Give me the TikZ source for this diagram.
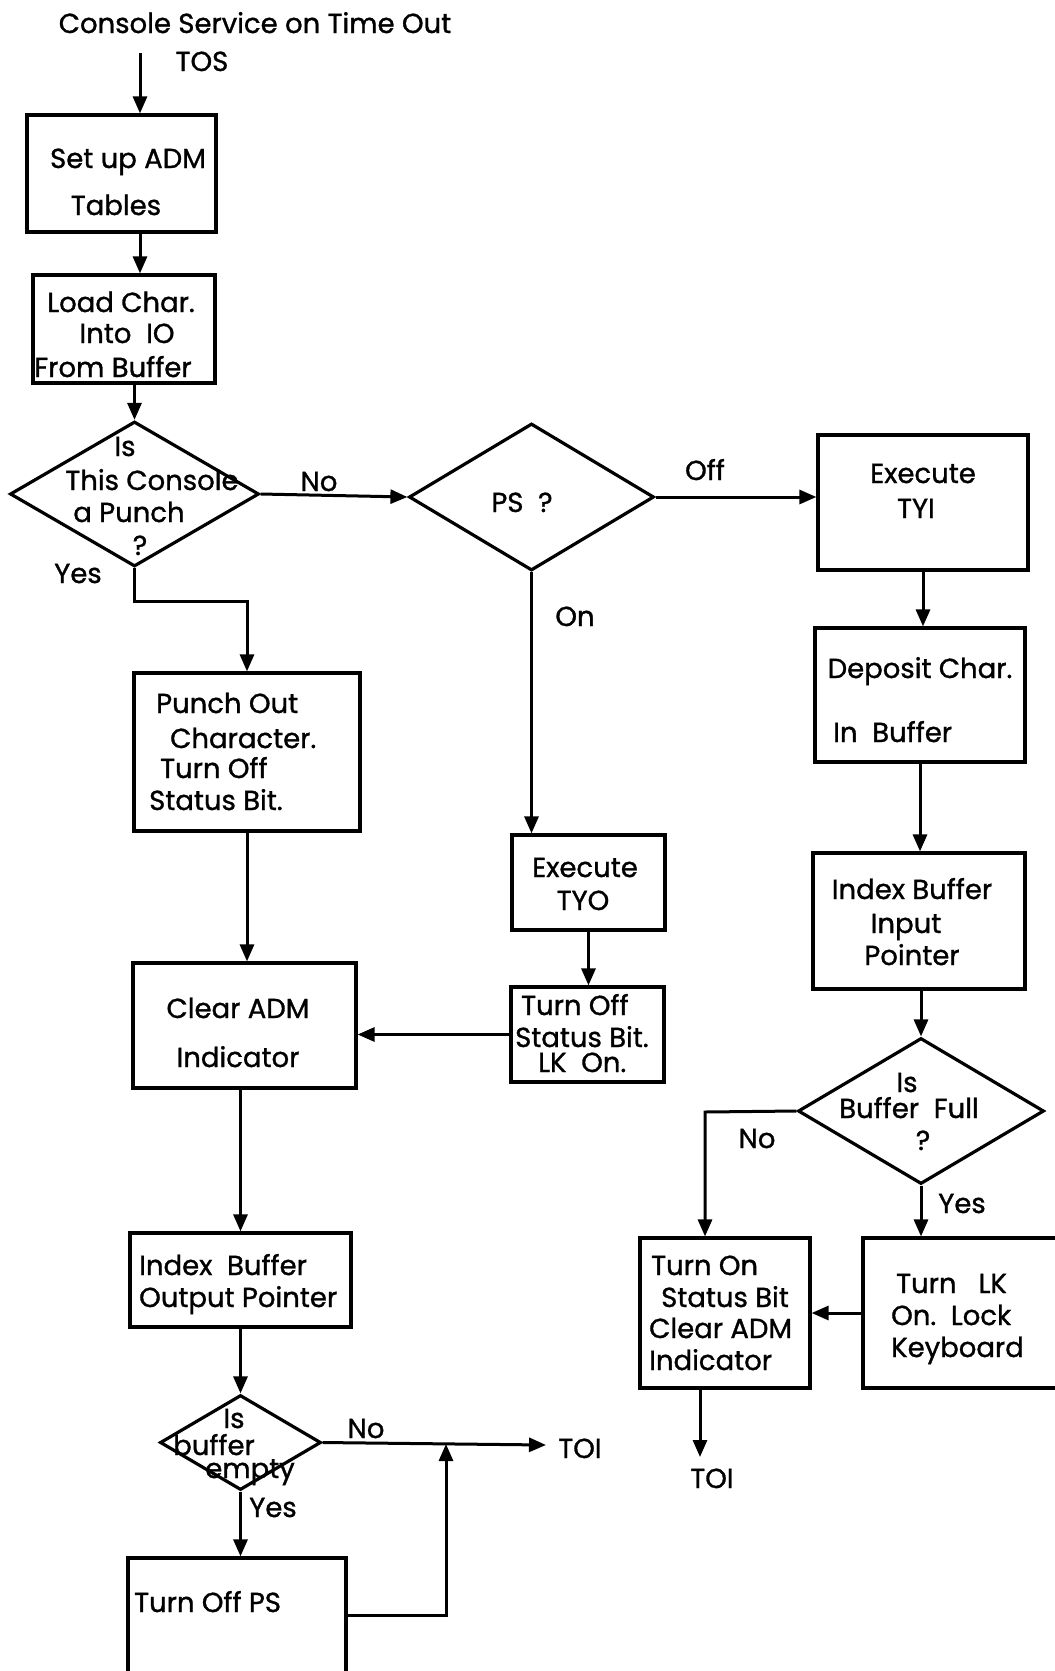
\documentclass[tikz,border=0pt]{standalone}
\usepackage{fontspec}
\setmainfont{Poppins}[FakeBold=1.1]
\usetikzlibrary{arrows.meta,shapes.geometric}
\begin{document}
\begin{tikzpicture}[x=1pt,y=-1pt,
  box/.style={draw, line width=3.2pt, rectangle, inner sep=0pt},
  dia/.style={draw, line width=3.2pt, diamond, inner sep=0pt},
  flow/.style={line width=3pt, -{Triangle[length=17pt,width=14pt]}},
  txt/.style={font=\fontsize{27.5}{30}\selectfont, inner sep=0pt, anchor=base},
  ltxt/.style={txt, anchor=base west},
]
\useasboundingbox (0,0) rectangle (1055,1671);
\clip (0,0) rectangle (1055,1671);

% ---------- process boxes ----------
\node[box, minimum width=189pt, minimum height=117pt] (setup)    at (121.5,173.5) {};
\node[box, minimum width=182pt, minimum height=108pt] (load)     at (124,329) {};
\node[box, minimum width=226pt, minimum height=158pt] (punch)    at (247,752) {};
\node[box, minimum width=223pt, minimum height=125pt] (clear)    at (244.5,1025.5) {};
\node[box, minimum width=221pt, minimum height=94pt]  (indexout) at (240.5,1280) {};
\node[box, minimum width=218pt, minimum height=132pt] (offps)    at (237,1624) {};
\node[box, minimum width=153pt, minimum height=95pt]  (tyo)      at (588.5,882.5) {};
\node[box, minimum width=153pt, minimum height=95pt]  (turnoff)  at (587.5,1034.5) {};
\node[box, minimum width=210pt, minimum height=135pt] (tyi)      at (923,502.5) {};
\node[box, minimum width=210pt, minimum height=134pt] (deposit)  at (920,695) {};
\node[box, minimum width=212pt, minimum height=136pt] (indexin)  at (919,921) {};
\node[box, minimum width=170pt, minimum height=150pt] (turnon)   at (725,1313) {};
\node[box, minimum width=207pt, minimum height=150pt] (turnlk)   at (966.5,1313) {};

% ---------- decisions ----------
\node[dia, minimum width=249pt, minimum height=145pt] (punchq) at (134.5,494) {};
\node[dia, minimum width=245pt, minimum height=147pt] (psq)    at (531.5,497) {};
\node[dia, minimum width=246pt, minimum height=146pt] (fullq)  at (921,1111) {};
\node[dia, minimum width=161pt, minimum height=95pt]  (emptyq) at (240.5,1442.5) {};

% ---------- texts ----------
\node[txt] (title) at (255,33) {Console Service on Time Out};
\node[txt] (tos)   at (202,71) {TOS};

\node[txt] (t1a) at (128,168) {Set up ADM};
\node[txt] (t1b) at (116,215) {Tables};

\node[txt] (t2a) at (121,312) {Load Char.};
\node[txt] (t2b) at (127,343) {Into\ \ IO};
\node[txt] (t2c) at (113,377) {From Buffer};

\node[txt] (q1a) at (125,456) {Is};
\node[txt] (q1b) at (152,490) {This Console};
\node[txt] (q1c) at (129,522) {a Punch};
\node[txt] (q1d) at (140,555) {?};
\node[txt] (no1)  at (319,491) {No};
\node[txt] (yes1) at (78,583) {Yes};

\node[txt] (q2)  at (522,512) {PS\ \ ?};
\node[txt] (off) at (705,480) {Off};
\node[txt] (on)  at (575,626) {On};

\node[txt] (t3a) at (923,483) {Execute};
\node[txt] (t3b) at (916,518) {TYI};

\node[txt] (t4a) at (920,678) {Deposit Char.};
\node[ltxt] (t4b) at (833,742) {In\ \ Buffer};

\node[txt] (t5a) at (912,899) {Index Buffer};
\node[txt] (t5b) at (906,933) {Input};
\node[txt] (t5c) at (912,965) {Pointer};

\node[txt] (q3a) at (907,1092) {Is};
\node[txt] (q3b) at (909,1118) {Buffer\ \ Full};
\node[txt] (q3c) at (923,1150) {?};
\node[txt] (no3)  at (757,1148) {No};
\node[txt] (yes3) at (962,1213) {Yes};

\node[ltxt] (t6a) at (651,1275) {Turn On};
\node[ltxt] (t6b) at (661,1307) {Status Bit};
\node[ltxt] (t6c) at (649,1338) {Clear ADM};
\node[ltxt] (t6d) at (649,1370) {Indicator};

\node[ltxt] (t7a) at (896,1293) {Turn\ \ \ LK};
\node[ltxt] (t7b) at (891,1325) {On.\ \ Lock};
\node[ltxt] (t7c) at (891,1357) {Keyboard};

\node[txt] (toiR) at (712,1488) {TOI};

\node[ltxt] (t8a) at (156,713) {Punch Out};
\node[ltxt] (t8b) at (170,748) {Character.};
\node[ltxt] (t8c) at (160,778) {Turn Off};
\node[ltxt] (t8d) at (149,810) {Status Bit.};

\node[txt] (t9a) at (585,877) {Execute};
\node[txt] (t9b) at (583,910) {TYO};

\node[ltxt] (t10a) at (521,1015) {Turn Off};
\node[ltxt] (t10b) at (515,1047) {Status Bit.};
\node[ltxt] (t10c) at (538,1072) {LK\ \ On.};

\node[txt] (t11a) at (238,1018) {Clear ADM};
\node[txt] (t11b) at (238,1067) {Indicator};

\node[ltxt] (t12a) at (139,1275) {Index\ \ Buffer};
\node[ltxt] (t12b) at (139,1307) {Output Pointer};

\node[txt] (q4a) at (234,1428) {Is};
\node[txt] (q4b) at (214,1455) {buffer};
\node[txt] (q4c) at (250,1478) {empty};
\node[txt] (no4)  at (366,1438) {No};
\node[txt] (yes4) at (273,1517) {Yes};
\node[txt] (toiL) at (580,1458) {TOI};

\node[ltxt] (t13) at (134,1612) {Turn Off PS};

% ---------- connector ends and bends ----------
\coordinate (tosin)   at (140,53);
\coordinate (yesbend) at (247,601);
\coordinate (nobend)  at (705,1112);
\coordinate (toiRend) at (700,1457);
\coordinate (toiLend) at (546,1445);
\coordinate (join)    at (446,1444);

% ---------- connectors ----------
\draw[flow] (tosin) -- (tosin |- setup.north);
\draw[flow] (setup.south -| tosin) -- (load.north -| tosin);
\draw[flow] (load.south -| punchq.north) -- (punchq.north);
\draw[flow] (punchq.east) -- (psq.west);
\draw[flow] (punchq.south) |- (yesbend) -- (punch.north);
\draw[flow] (psq.east) -- (psq.east -| tyi.west);
\draw[flow] (psq.south) -- (psq.south |- tyo.north);
\draw[flow] (tyi.south) -- (tyi.south |- deposit.north);
\draw[flow] (deposit.south) -- (deposit.south |- indexin.north);
\draw[flow] (indexin.south -| fullq.north) -- (fullq.north);
\draw[flow] (fullq.west) -- (nobend) -- (nobend |- turnon.north);
\draw[flow] (fullq.south) -- (fullq.south |- turnlk.north);
\draw[flow] (turnlk.west) -- (turnon.east);
\draw[flow] (turnon.south -| toiRend) -- (toiRend);
\draw[flow] (punch.south) -- (punch.south |- clear.north);
\draw[flow] (tyo.south) -- (tyo.south |- turnoff.north);
\draw[flow] (turnoff.west) -- (turnoff.west -| clear.east);
\draw[flow] (clear.south -| indexout.north) -- (indexout.north);
\draw[flow] (indexout.south) -- (emptyq.north);
\draw[flow] (emptyq.east) -- (toiLend);
\draw[flow] (emptyq.south) -- (emptyq.south |- offps.north);
\draw[flow] ([yshift=9pt]offps.east) -| (join);
\end{tikzpicture}
\end{document}
